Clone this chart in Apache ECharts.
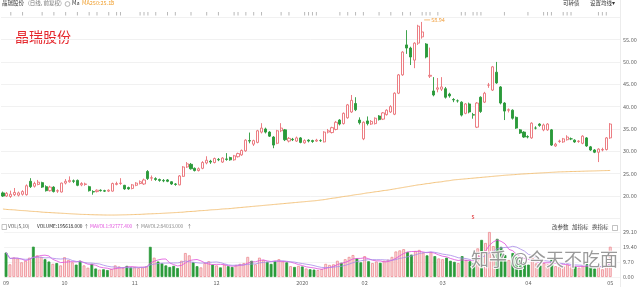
<!DOCTYPE html>
<html>
<head>
<meta charset="utf-8">
<script src="https://cdn.jsdelivr.net/npm/echarts@6/dist/echarts.min.js"></script>
<style>
  html, body { margin: 0; padding: 0; background: #fff; }
  #main { width: 640px; height: 287px; }
</style>
</head>
<body>
<div id="main"></div>
<script>
// daily candles [open, close, low, high], 2019-09 .. 2020-05-06
const candles = [
  [20.7,20.0,19.8,21.0],[20.0,20.6,19.8,20.9],[19.9,20.4,19.6,21.2],[20.3,20.8,20.0,21.8],[20.2,20.7,19.9,21.0],
  [20.4,21.0,20.1,21.3],[20.3,22.3,20.1,22.6],[23.3,22.1,21.8,24.0],[22.2,22.8,21.9,23.2],[22.6,23.1,22.4,23.6],
  [23.0,22.0,21.8,23.2],[22.1,21.2,21.0,22.4],[21.2,22.0,21.0,22.3],[22.0,21.0,20.8,22.2],[21.1,21.2,20.7,21.5],
  [20.9,22.9,20.8,23.0],[22.9,23.3,22.6,23.8],[23.2,23.5,23.0,24.4],[23.4,23.3,22.9,23.7],[23.5,22.4,22.2,23.7],
  [22.5,22.8,22.2,23.1],[22.6,22.7,22.3,23.0],[22.1,21.2,21.0,22.3],[21.0,20.9,20.3,21.3],[21.0,21.3,20.8,21.5],
  [21.3,21.2,21.0,21.5],[21.2,21.1,20.9,21.4],[21.1,21.3,20.9,21.5],[21.1,22.8,21.0,23.0],[22.6,22.8,22.4,23.2],
  [22.8,22.9,22.5,24.0],[22.4,21.6,21.4,22.5],[21.9,21.6,21.4,22.1],[21.7,22.5,21.5,22.7],[22.4,22.9,22.2,23.1],
  [22.8,23.2,22.6,23.5],[22.7,23.6,22.5,23.9],[25.5,23.9,23.6,25.8],[24.0,24.1,23.4,24.6],[23.9,23.7,23.4,24.2],
  [23.7,23.5,23.2,23.9],[23.5,23.4,23.1,23.8],[23.6,23.3,23.1,23.8],[23.2,22.7,22.5,23.3],[22.7,22.6,22.3,22.9],
  [22.5,24.5,22.4,24.7],[24.4,26.5,24.3,26.7],[26.5,27.2,26.3,27.6],[27.1,26.1,25.9,27.4],[26.2,25.7,25.5,26.4],
  [25.7,26.1,25.5,26.4],[26.2,27.5,26.0,27.8],[27.4,28.0,27.1,28.9],[27.8,27.6,27.2,28.1],[27.5,28.4,27.3,28.6],
  [28.2,28.1,27.8,28.5],[27.6,28.5,27.4,28.7],[28.3,28.2,27.9,29.6],[28.6,28.1,27.9,28.8],[28.1,29.0,27.9,29.2],
  [28.8,29.5,28.6,29.7],[29.2,30.2,29.0,30.4],[30.1,32.5,29.9,32.7],[32.4,32.3,31.8,34.2],[31.6,32.4,31.2,32.6],
  [32.0,34.6,31.8,34.8],[34.3,35.2,34.0,36.3],[35.0,34.3,34.0,35.3],[34.3,33.4,33.2,34.5],[33.2,31.4,30.7,33.4],
  [31.8,34.6,31.6,34.8],[34.6,35.2,34.3,36.3],[34.8,32.6,32.3,35.0],[32.3,32.9,32.0,33.2],[32.7,32.6,32.3,33.0],
  [32.3,33.0,32.1,33.3],[33.0,32.0,31.8,33.2],[31.9,32.4,31.7,32.7],[32.5,32.3,32.0,32.7],[32.4,32.2,31.9,32.6],
  [32.3,32.5,32.1,32.8],[32.4,32.4,32.1,32.7],[32.1,34.3,32.0,34.5],[34.3,34.6,34.0,35.0],[34.2,35.3,34.0,35.5],
  [34.9,36.5,34.7,36.8],[37.0,36.1,35.8,37.2],[36.2,38.5,36.0,38.7],[37.5,40.4,37.3,40.6],[38.8,41.4,38.6,42.6],
  [40.7,39.3,39.0,42.1],[37.0,36.4,36.0,37.6],[32.8,36.5,32.5,36.7],[36.8,36.2,35.8,37.8],[36.1,36.7,35.9,37.0],
  [36.2,37.4,36.0,37.6],[37.9,37.1,36.9,38.1],[37.2,38.6,37.0,38.8],[38.2,39.2,38.0,39.4],[38.8,40.0,38.6,40.3],
  [38.3,43.0,38.1,43.2],[43.0,47.1,42.8,47.3],[47.1,52.2,46.9,52.4],[53.8,53.1,51.8,57.1],[53.1,51.1,49.3,53.4],
  [50.4,54.2,48.6,54.4],[54.2,58.0,53.8,58.3],[55.6,56.7,55.2,58.94],[54.0,51.1,50.8,54.2],[46.8,47.0,46.4,53.2],
  [43.5,42.6,42.3,46.6],[43.9,44.2,43.2,46.4],[43.9,44.4,43.5,46.6],[44.0,42.1,41.8,44.4],[42.8,42.4,42.0,43.1],
  [41.6,41.5,41.0,41.9],[41.3,41.3,40.9,41.6],[41.0,38.1,37.8,41.2],[38.5,40.6,38.3,40.8],[40.6,38.8,38.5,40.9],
  [38.2,38.1,37.3,38.6],[35.4,40.8,35.2,41.0],[42.1,38.9,38.6,42.3],[41.0,43.0,40.8,43.3],[44.8,44.8,44.2,45.3],
  [43.7,48.9,43.5,49.1],[47.7,45.3,45.1,50.0],[44.4,40.8,40.5,44.6],[40.8,39.0,37.0,41.0],[39.2,39.3,38.7,39.6],
  [39.2,37.4,37.1,39.4],[37.6,35.2,35.0,37.8],[34.8,34.1,33.9,35.0],[34.3,33.2,33.0,34.5],[33.3,33.2,32.9,33.6],
  [33.0,36.3,32.8,36.5],[35.2,35.2,34.9,35.6],[36.1,35.8,35.5,36.3],[34.8,35.9,34.5,36.2],[34.8,36.1,34.6,36.3],
  [34.8,31.4,31.2,35.0],[31.2,31.6,31.0,31.9],[32.2,32.3,31.9,32.6],[32.1,32.8,31.9,33.0],[32.6,33.2,32.4,33.6],
  [32.8,32.8,32.5,33.1],[32.5,32.1,31.9,32.7],[32.2,32.3,31.9,32.5],[31.8,33.4,31.6,33.6],[33.0,31.2,31.0,33.2],
  [31.0,30.3,30.1,31.2],[30.3,29.8,29.6,30.5],[29.8,30.5,27.6,30.7],[30.3,30.4,30.0,30.8],[30.4,33.0,30.2,33.2],
  [33.0,36.1,32.8,36.3]
];
// volume, 万股
const volumes = [
  15.8,8.2,12.6,12.0,9.5,10.5,12.5,19.6,14.0,13.0,11.5,10.0,8.5,9.0,7.5,
  12.8,11.0,9.5,8.0,10.5,7.5,6.0,8.5,5.5,4.8,5.0,4.5,5.2,7.5,6.8,6.0,7.2,6.2,
  6.5,5.8,6.2,7.0,19.5,12.5,10.0,8.8,7.5,6.5,7.2,5.8,10.5,15.5,14.0,9.5,7.0,6.2,9.0,10.2,8.0,
  7.5,6.2,8.0,7.0,6.5,7.8,8.5,9.0,13.0,10.5,8.2,12.5,11.0,9.8,8.5,10.2,11.5,10.0,9.5,7.0,6.5,7.2,
  6.8,5.5,5.0,4.8,4.5,5.2,8.5,7.8,8.2,10.5,9.2,11.5,13.0,14.2,12.0,9.5,
  13.5,10.2,9.0,10.0,9.2,10.5,11.2,13.0,16.5,17.2,18.0,16.2,14.5,16.8,17.5,15.8,14.0,16.0,13.5,12.0,
  11.5,12.5,10.5,9.8,9.0,13.5,11.0,10.2,9.0,18.5,24.0,22.0,29.1,20.0,24.7,19.5,14.2,11.0,15.5,13.0,11.0,9.5,8.0,
  12.5,8.8,7.5,9.0,8.2,12.0,7.0,6.5,7.2,8.0,6.2,6.8,6.0,7.5,8.5,6.8,5.5,6.2,5.0,9.8,19.56
];
const ma250 = [
  17.1,17.0,16.95,16.9,16.8,16.75,16.7,16.6,16.55,16.5,16.4,16.35,16.3,
  16.25,16.2,16.15,16.1,16.05,16.0,15.95,15.9,15.88,15.85,15.82,15.8,15.78,15.76,15.75,
  15.75,15.76,15.78,15.8,15.82,15.85,15.88,15.9,15.95,16.0,16.03,16.07,16.1,16.15,16.2,
  16.25,16.3,16.35,16.4,16.5,16.55,16.6,16.7,16.75,16.8,16.9,16.95,17.0,17.1,17.15,17.2,17.3,
  17.38,17.46,17.54,17.62,17.7,17.78,17.86,17.94,18.02,18.1,18.18,18.26,18.34,18.42,18.5,18.58,18.66,18.74,18.82,18.9,18.98,19.1,
  19.2,19.35,19.5,19.6,19.75,19.9,20.0,20.15,20.3,20.4,20.55,20.7,20.8,20.95,21.05,21.2,21.3,
  21.45,21.6,21.75,21.9,22.05,22.2,22.35,22.5,22.6,22.75,22.85,23.0,23.1,23.2,23.35,23.45,23.6,
  23.68,23.76,23.84,23.92,24.0,24.08,24.16,24.24,24.32,24.4,24.48,24.56,24.64,24.7,24.76,24.82,24.9,
  24.95,25.0,25.05,25.1,25.15,25.2,25.25,25.3,25.35,25.4,
  25.42,25.45,25.48,25.5,25.52,25.55,25.58,25.6,25.62,25.65,25.68,25.7,25.72
];
const tickIdx = [0, 15, 33, 54, 76, 92, 112, 134, 155];
const tickLabels = ['09', '10', '11', '12', '2020', '02', '03', '04', '05'];
const eventIdx = [2,5,10,13,16,19,22,24,27,29,30,35,36,37,39,42,44,48,52,55,59,60,62,64,66,71,73,77,78,79,80,
  86,88,90,92,96,99,102,104,107,108,109,111,117,118,120,121,122,128,134,138,139,140,143,144,145,152,153,154];
const peakIdx = 107, peakValue = 58.94;
const flagIdx = 120;
const padSlots = 2;

const days = [];
for (let i = 0; i < candles.length + padSlots; i++) days.push(i);

function ma(list, n) {
  return list.map((v, i) => {
    let s = 0, c = 0;
    for (let j = Math.max(0, i - n + 1); j <= i; j++) { s += list[j]; c++; }
    return +(s / c).toFixed(3);
  });
}

const UP = '#ea6f76', DOWN = '#2a9a3a';
const volData = volumes.map((v, i) => {
  const up = candles[i][1] >= candles[i][0];
  return {
    value: v,
    itemStyle: up ? {color: '#fbdadd', borderColor: '#ec8a91', borderWidth: 0.8}
                  : {color: DOWN, borderColor: DOWN, borderWidth: 0.8}
  };
});

const font = '"Noto Sans CJK SC", "Noto Sans", sans-serif';
function txt(x, y, text, fill, size) {
  return {type: 'text', left: x, top: y - 3.5,
    style: {text: text, fill: fill, fontSize: size || 5.5, fontFamily: font, verticalAlign: 'middle'}};
}

const chart = echarts.init(document.getElementById('main'));
chart.setOption({
  animation: false,
  backgroundColor: '#fff',
  grid: [
    {left: 1, right: 20, top: 17.2, height: 201.2},
    {left: 1, right: 20, top: 232, height: 45}
  ],
  xAxis: [
    {type: 'category', gridIndex: 0, data: days, boundaryGap: true,
     axisLine: {show: false}, axisTick: {show: false}, axisLabel: {show: false}, splitLine: {show: false}},
    {type: 'category', gridIndex: 1, data: days, boundaryGap: true,
     axisLine: {show: false}, axisTick: {show: false}, splitLine: {show: false},
     axisLabel: {
       interval: (idx) => tickIdx.indexOf(idx) >= 0,
       formatter: (v) => tickLabels[tickIdx.indexOf(Number(v))] || '',
       fontSize: 5.5, color: '#666', margin: 3, fontFamily: font
     }}
  ],
  yAxis: [
    {type: 'value', gridIndex: 0, position: 'right', min: 15, max: 60, interval: 5,
     axisLine: {show: false}, axisTick: {show: false},
     splitLine: {lineStyle: {color: '#f1f1f1', width: 1}},
     axisLabel: {showMinLabel: false, showMaxLabel: false, fontSize: 5.5, color: '#666', margin: 3,
       fontFamily: font, formatter: (v) => v.toFixed(2)}},
    {type: 'value', gridIndex: 1, position: 'right', min: 0, max: 29.1, interval: 9.7,
     axisLine: {show: false}, axisTick: {show: false},
     splitLine: {lineStyle: {color: '#f3f3f3', width: 1}},
     axisLabel: {fontSize: 5.5, color: '#666', margin: 3, fontFamily: font, formatter: (v) => v.toFixed(2)}}
  ],
  series: [
    {
      type: 'line', name: 'MA250', xAxisIndex: 0, yAxisIndex: 0, data: ma250,
      symbol: 'none', smooth: true, lineStyle: {color: '#f4c47e', width: 1}
    },
    {
      type: 'candlestick', xAxisIndex: 0, yAxisIndex: 0, data: candles, barWidth: 2.6,
      itemStyle: {color: '#fff', color0: DOWN, borderColor: UP, borderColor0: DOWN, borderWidth: 0.9},
      markPoint: {
        symbol: 'rect', symbolSize: [6, 0.7], symbolOffset: [5, -2],
        itemStyle: {color: '#f0a040'},
        label: {show: true, position: 'right', distance: 1, formatter: peakValue.toFixed(2),
          fontSize: 5.5, color: '#f0a040', fontFamily: font},
        data: [{coord: [peakIdx, peakValue], value: peakValue}]
      }
    },
    {
      type: 'scatter', xAxisIndex: 0, yAxisIndex: 0, clip: false, silent: true,
      data: eventIdx.map(i => [i, 60]),
      symbol: 'rect', symbolSize: [1, 3.5], symbolOffset: [0, -3.5],
      itemStyle: {color: '#a8a8a8'}
    },
    {
      type: 'scatter', xAxisIndex: 0, yAxisIndex: 0, clip: false, silent: true,
      data: [[flagIdx, 15.4]], symbolSize: 0.1,
      label: {show: true, position: 'inside', formatter: 's', color: '#e0262b', fontSize: 6,
        fontWeight: 'bold', fontFamily: font}
    },
    {
      type: 'bar', xAxisIndex: 1, yAxisIndex: 1, data: volData, barWidth: 2.8
    },
    {
      type: 'line', xAxisIndex: 1, yAxisIndex: 1, data: ma(volumes, 5),
      symbol: 'none', lineStyle: {color: '#e04ddc', width: 0.8}
    },
    {
      type: 'line', xAxisIndex: 1, yAxisIndex: 1, data: ma(volumes, 10),
      symbol: 'none', lineStyle: {color: '#a88ae8', width: 0.8}
    }
  ],
  graphic: [
    {type: 'line', shape: {x1: 620.5, y1: 0, x2: 620.5, y2: 287}, style: {stroke: '#ececec', lineWidth: 1}},
    txt(2, 4, '晶瑞股份', '#333'),
    txt(28, 4, '(日线, 前复权)', '#777'),
    {type: 'circle', shape: {cx: 67.5, cy: 4, r: 2.4}, style: {fill: 'none', stroke: '#888', lineWidth: 0.6}},
    txt(72, 4, 'Ma', '#333'),
    txt(82, 4, 'MA250:25.13', '#f0a030'),
    txt(109, 4, '↑', '#f0a030'),
    txt(563, 4, '可转债', '#333'),
    txt(590, 4, '设置均线▾', '#333'),
    {type: 'text', left: 15, top: 30, style: {text: '晶瑞股份', fill: '#e5262b', fontSize: 14, fontFamily: font}},
    {type: 'rect', shape: {x: 2, y: 224.5, width: 4.5, height: 5}, style: {fill: 'none', stroke: '#999', lineWidth: 0.6}},
    txt(8, 227, 'VOL(5,10)', '#555', 4.8),
    txt(37, 227, 'VOLUME:195618.000', '#222', 4.8),
    txt(84, 227, '↑', '#555', 4.8),
    txt(90, 227, 'MAVOL1:92777.400', '#e04ddc', 4.8),
    txt(135, 227, '↑', '#555', 4.8),
    txt(141, 227, 'MAVOL2:84033.000', '#888', 4.8),
    txt(187, 227, '↑', '#555', 4.8),
    txt(552, 228, '改参数', '#444'),
    txt(572, 228, '加指标', '#444'),
    txt(592, 228, '换指标', '#444'),
    {type: 'rect', shape: {x: 612.5, y: 225.5, width: 5, height: 5}, style: {fill: 'none', stroke: '#999', lineWidth: 0.6}},
    {type: 'text', left: 470, top: 249, z: 100,
     style: {text: '知乎 @今天不吃面', fill: 'rgba(120,120,120,0.75)', stroke: 'rgba(255,255,255,0.9)',
       lineWidth: 2, fontSize: 18, fontFamily: font}}
  ]
});
</script>
</body>
</html>
